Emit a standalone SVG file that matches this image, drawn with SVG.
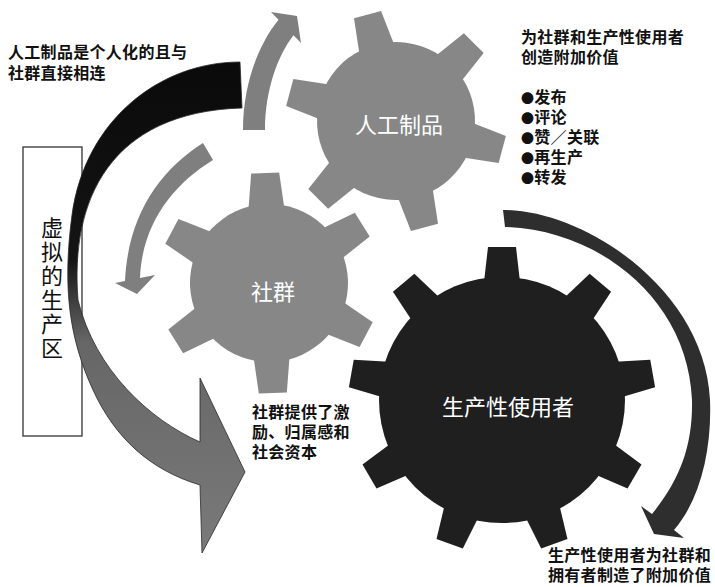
<svg xmlns="http://www.w3.org/2000/svg" width="715" height="587" viewBox="0 0 715 587">
<style>
.lbl{font-family:"Noto Sans CJK SC","Noto Sans",sans-serif;font-size:16px;font-weight:bold;fill:#111;letter-spacing:0.3px}
.gtxt{font-family:"Noto Sans CJK SC","Noto Sans",sans-serif;font-size:22px;fill:#fff;text-anchor:middle}
.gray{fill:#878787}
.dark{fill:#1f1f1f}
</style>
<defs>
<linearGradient id="bigGrad" gradientUnits="userSpaceOnUse" x1="0" y1="62" x2="0" y2="553">
<stop offset="0" stop-color="#0a0a0a"/>
<stop offset="0.40" stop-color="#141414"/>
<stop offset="0.57" stop-color="#666"/>
<stop offset="1" stop-color="#7a7a7a"/>
</linearGradient>
<g id="gearS">
<circle r="79"/>
<polygon points="-18,-74 18,-74 14,-110 -14,-110"/>
<polygon points="-18,-74 18,-74 14,-110 -14,-110" transform="rotate(60)"/>
<polygon points="-18,-74 18,-74 14,-110 -14,-110" transform="rotate(120)"/>
<polygon points="-18,-74 18,-74 14,-110 -14,-110" transform="rotate(180)"/>
<polygon points="-18,-74 18,-74 14,-110 -14,-110" transform="rotate(240)"/>
<polygon points="-18,-74 18,-74 14,-110 -14,-110" transform="rotate(300)"/>
</g>
<g id="gearL">
<circle r="123"/>
<polygon points="-18,-118 18,-118 14,-153 -14,-153"/>
<polygon points="-18,-118 18,-118 14,-153 -14,-153" transform="rotate(40)"/>
<polygon points="-18,-118 18,-118 14,-153 -14,-153" transform="rotate(80)"/>
<polygon points="-18,-118 18,-118 14,-153 -14,-153" transform="rotate(120)"/>
<polygon points="-18,-118 18,-118 14,-153 -14,-153" transform="rotate(160)"/>
<polygon points="-18,-118 18,-118 14,-153 -14,-153" transform="rotate(200)"/>
<polygon points="-18,-118 18,-118 14,-153 -14,-153" transform="rotate(240)"/>
<polygon points="-18,-118 18,-118 14,-153 -14,-153" transform="rotate(280)"/>
<polygon points="-18,-118 18,-118 14,-153 -14,-153" transform="rotate(320)"/>
</g>
</defs>
<rect width="715" height="587" fill="#fff"/>

<g id="node-zone">
<rect x="23" y="147" width="59" height="289" fill="#fff" stroke="#333" stroke-width="1.3"/>
<text x="52" y="217" writing-mode="vertical-rl" font-family="'Noto Sans CJK SC',sans-serif" font-size="22" letter-spacing="2" fill="#111">虚拟的生产区</text>
</g>

<g id="connectors">
<path id="arrow-big" d="M240,62 C160,62 85,120 72,215 C62,290 70,340 93,390 C115,438 150,470 200,485 L202,553 L245,472 L200,378 L200,442 C150,420 95,370 78,300 C70,200 110,112 242,108 Z" fill="url(#bigGrad)" stroke="#2a2a2a" stroke-width="0.8"/>
<path id="arrow-a" d="M243,130 C243,85 258,45 278.5,19.75 L271,12 L297,16 L301,43 L293.5,35.25 C278,55 265,90 265,130 Z" fill="#7f7f7f"/>
<path id="arrow-b" d="M203,143 C160,170 128,215 125,281 L115,283 L137,294 L155,275 L140,278 C142,225 172,185 213,160 Z" fill="#7f7f7f"/>
<path id="arrow-c" d="M503,210 C585,210 705,290 710,400 C712,450 700,500 674,530 L684,538 L654,534 L641,506 L652,514 C680,480 693,445 692,400 C688,300 600,230 505,227 Z" fill="#2e2e2e"/>
</g>

<g id="node-artifact">
<use href="#gearS" class="gray" transform="translate(396,121) rotate(-15)"/>
<text class="gtxt" x="399" y="133">人工制品</text>
</g>

<g id="node-community">
<use href="#gearS" class="gray" transform="translate(269,283) rotate(-2)"/>
<text class="gtxt" x="273" y="300">社群</text>
</g>

<g id="node-producers">
<use href="#gearL" class="dark" transform="translate(502,400)"/>
<text class="gtxt" x="508" y="415">生产性使用者</text>
</g>

<g id="labels">
<text class="lbl"><tspan x="8" y="58">人工制品是个人化的且与</tspan><tspan x="8" y="79">社群直接相连</tspan></text>
<text class="lbl"><tspan x="521" y="43">为社群和生产性使用者</tspan><tspan x="521" y="63">创造附加价值</tspan></text>
<text class="lbl"><tspan x="521" y="103"><tspan font-size="13">●</tspan>发布</tspan><tspan x="521" y="123"><tspan font-size="13">●</tspan>评论</tspan><tspan x="521" y="143"><tspan font-size="13">●</tspan>赞／关联</tspan><tspan x="521" y="163"><tspan font-size="13">●</tspan>再生产</tspan><tspan x="521" y="183"><tspan font-size="13">●</tspan>转发</tspan></text>
<text class="lbl"><tspan x="252" y="418">社群提供了激</tspan><tspan x="252" y="438">励、归属感和</tspan><tspan x="252" y="458">社会资本</tspan></text>
<text class="lbl"><tspan x="548" y="561">生产性使用者为社群和</tspan><tspan x="548" y="581">拥有者制造了附加价值</tspan></text>
</g>
</svg>
